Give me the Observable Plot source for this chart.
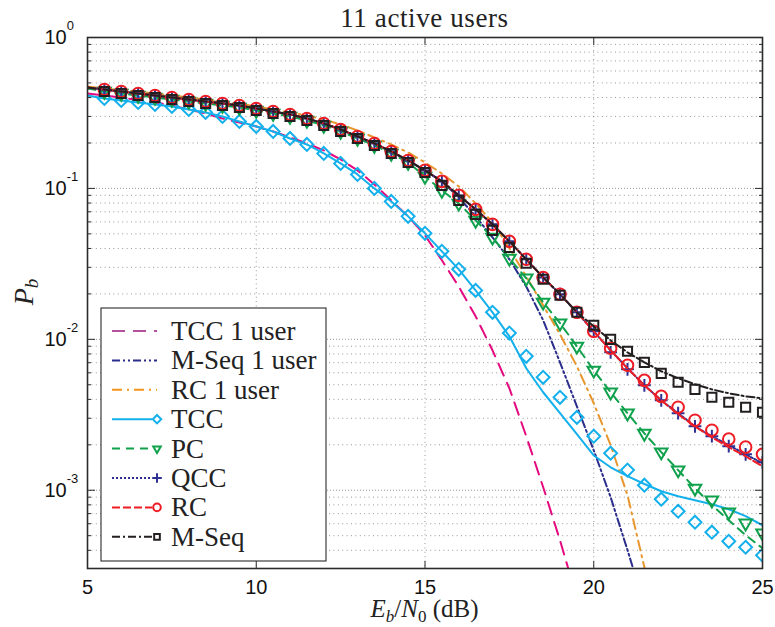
<!DOCTYPE html>
<html>
<head>
<meta charset="utf-8">
<script src="https://cdn.jsdelivr.net/npm/d3@7"></script>
<script src="https://cdn.jsdelivr.net/npm/@observablehq/plot@0.6"></script>
<style>
  html, body { margin: 0; padding: 0; background: #fff; }
  #chart svg { display: block; }
</style>
</head>
<body>
<div id="chart"></div>
<script>
// ---------------- data ----------------
const titleText = "11 active users";
const xTicks = [5, 10, 15, 20, 25];
const yMajorTicks = [1e-3, 1e-2, 1e-1, 1];
const yMinorTicks = [4e-4, 5e-4, 6e-4, 7e-4, 8e-4, 9e-4,
  2e-3, 3e-3, 4e-3, 5e-3, 6e-3, 7e-3, 8e-3, 9e-3,
  2e-2, 3e-2, 4e-2, 5e-2, 6e-2, 7e-2, 8e-2, 9e-2,
  0.2, 0.3, 0.4, 0.5, 0.6, 0.7, 0.8, 0.9];

// Eb/N0 (dB) for the curves (5 … 25 dB)
const ebn0 = [5,5.5,6,6.5,7,7.5,8,8.5,9,9.5,10,10.5,11,11.5,12,12.5,13,13.5,14,14.5,15,
  15.5,16,16.5,17,17.5,18,18.5,19,19.5,20,20.5,21,21.5,22,22.5,23,23.5,24,24.5,25];
// Eb/N0 (dB) for the simulated markers (5.5 … 25 dB)
const ebn0Marks = [5.5,6,6.5,7,7.5,8,8.5,9,9.5,10,10.5,11,11.5,12,12.5,13,13.5,14,14.5,15,
  15.5,16,16.5,17,17.5,18,18.5,19,19.5,20,20.5,21,21.5,22,22.5,23,23.5,24,24.5,25];

// analytic curves
const tcc1Line = [0.4257,0.4129,0.4005,0.3855,0.3711,0.3545,0.3335,0.3138,0.2907,0.2735,0.2574,0.2384,0.2176,0.1986,0.1785,0.1556,0.1316,0.1063,0.0833,0.0653,0.0488,0.0334,0.0224,0.0142,0.00846,0.00474,0.00228,0.00105,0.000466,0.000193];
const mseq1Line = [0.4595,0.4525,0.4389,0.4257,0.4129,0.4005,0.3885,0.3768,0.3655,0.3545,0.3387,0.3235,0.3091,0.2907,0.2694,0.2458,0.2210,0.1986,0.1758,0.1532,0.1316,0.1113,0.0872,0.0653,0.0474,0.0339,0.0224,0.0134,0.00704,0.00360,0.00184,0.000899,0.000401,0.000173];
const rc1Line = [0.4736,0.4595,0.4457,0.4389,0.4257,0.4129,0.4005,0.3885,0.3768,0.3655,0.3491,0.3335,0.3186,0.3043,0.2864,0.2653,0.2421,0.2176,0.1956,0.1731,0.1486,0.1257,0.1031,0.0796,0.0595,0.0401,0.0261,0.0168,0.01079,0.00663,0.00377,0.00199,0.000927,0.000309,0.000102];
const tccLine = [0.4129,0.3945,0.3826,0.3711,0.3600,0.3491,0.3335,0.3186,0.2997,0.2778,0.2574,0.2384,0.2143,0.1956,0.1705,0.1464,0.1238,0.1000,0.0820,0.0653,0.0504,0.0383,0.0291,0.0211,0.0151,0.01047,0.00643,0.00446,0.00324,0.00235,0.00170,0.00142,0.00124,0.00110,0.000985,0.000913,0.000859,0.000808,0.000748,0.000673,0.000586];
const pcLine = [0.4595,0.4389,0.4257,0.4129,0.4005,0.3885,0.3768,0.3655,0.3545,0.3439,0.3285,0.3138,0.2997,0.2820,0.2614,0.2384,0.2143,0.1926,0.1705,0.1486,0.1201,0.0970,0.0796,0.0614,0.0474,0.0344,0.0254,0.0176,0.0128,0.00899,0.00623,0.00446,0.00324,0.00238,0.00179,0.00136,0.00103,0.000796,0.000633,0.000504,0.000413];
const qccLine = [0.4666,0.4525,0.4389,0.4257,0.4129,0.4005,0.3885,0.3768,0.3655,0.3545,0.3387,0.3235,0.3091,0.2907,0.2694,0.2458,0.2210,0.1986,0.1758,0.1532,0.1316,0.1113,0.0899,0.0726,0.0578,0.0446,0.0339,0.0257,0.0199,0.0151,0.0113,0.00846,0.00643,0.00496,0.00394,0.00324,0.00265,0.00228,0.00199,0.00173,0.00151];
const rcLine = [0.4666,0.4525,0.4389,0.4257,0.4129,0.4005,0.3885,0.3768,0.3655,0.3545,0.3387,0.3235,0.3091,0.2907,0.2694,0.2458,0.2210,0.1986,0.1758,0.1532,0.1316,0.1113,0.0899,0.0726,0.0578,0.0446,0.0339,0.0257,0.0199,0.0151,0.0113,0.00846,0.00643,0.00496,0.00394,0.00319,0.00265,0.00224,0.00193,0.00168,0.00144];
const mseqLine = [0.4666,0.4525,0.4389,0.4257,0.4129,0.4005,0.3885,0.3768,0.3655,0.3545,0.3387,0.3235,0.3091,0.2907,0.2694,0.2458,0.2210,0.1986,0.1758,0.1532,0.1316,0.1113,0.0899,0.0726,0.0578,0.0446,0.0339,0.0257,0.0199,0.0151,0.0122,0.00985,0.00820,0.00704,0.00614,0.00552,0.00504,0.00466,0.00439,0.00419,0.00407];

// simulated points
const tccMarks = [0.3945,0.3826,0.3711,0.3600,0.3491,0.3335,0.3186,0.2997,0.2778,0.2574,0.2384,0.2143,0.1956,0.1705,0.1464,0.1238,0.1000,0.0820,0.0653,0.0504,0.0383,0.0291,0.0211,0.0151,0.0110,0.00772,0.00560,0.00413,0.00304,0.00228,0.00176,0.00136,0.00108,0.000872,0.000726,0.000614,0.000527,0.000459,0.000419,0.000371];
const pcMarks = [0.4389,0.4257,0.4129,0.4005,0.3885,0.3768,0.3655,0.3545,0.3439,0.3285,0.3138,0.2997,0.2820,0.2614,0.2384,0.2143,0.1926,0.1705,0.1486,0.1201,0.0970,0.0796,0.0614,0.0474,0.0344,0.0254,0.0176,0.0128,0.00899,0.00623,0.00446,0.00324,0.00238,0.00179,0.00136,0.00103,0.000859,0.000715,0.000605,0.000519];
const qccMarks = [0.4525,0.4389,0.4257,0.4129,0.4005,0.3885,0.3768,0.3655,0.3545,0.3387,0.3235,0.3091,0.2907,0.2694,0.2458,0.2210,0.1986,0.1758,0.1532,0.1316,0.1113,0.0899,0.0726,0.0578,0.0446,0.0339,0.0257,0.0199,0.0151,0.0113,0.00820,0.00633,0.00496,0.00394,0.00324,0.00265,0.00228,0.00196,0.00173,0.00153];
const rcMarks = [0.4525,0.4389,0.4257,0.4129,0.4005,0.3885,0.3768,0.3655,0.3545,0.3387,0.3235,0.3091,0.2907,0.2694,0.2458,0.2210,0.1986,0.1758,0.1532,0.1316,0.1113,0.0899,0.0726,0.0578,0.0446,0.0339,0.0257,0.0199,0.0151,0.0113,0.00872,0.00673,0.00535,0.00419,0.00355,0.00291,0.00250,0.00218,0.00193,0.00173];
const mseqMarks = [0.4389,0.4257,0.4129,0.4005,0.3885,0.3768,0.3655,0.3545,0.3439,0.3285,0.3138,0.2997,0.2820,0.2614,0.2384,0.2143,0.1926,0.1705,0.1486,0.1276,0.1047,0.0833,0.0673,0.0527,0.0407,0.0319,0.0250,0.0196,0.0151,0.0124,0.0100,0.00833,0.00704,0.00595,0.00519,0.00466,0.00413,0.00383,0.00355,0.00329];

const seriesNames = ["TCC 1 user", "M-Seq 1 user", "RC 1 user", "TCC", "PC", "QCC", "RC", "M-Seq"];
const seriesLines = [tcc1Line, mseq1Line, rc1Line, tccLine, pcLine, qccLine, rcLine, mseqLine];
const seriesMarks = [null, null, null, tccMarks, pcMarks, qccMarks, rcMarks, mseqMarks];

// ---------------- styles ----------------
const styles = [
  {color: "#e5097f", legendColor: "#b4519c", dash: "13,8", symbol: null},
  {color: "#2b2d8c", legendColor: "#2b2d8c", dash: "8,3,2,3,2,3", symbol: null},
  {color: "#e8962e", legendColor: "#f7941d", dash: "10,5,2,5", symbol: null},
  {color: "#13b0ec", legendColor: "#13b0ec", dash: null, symbol: "diamond2", r: 5.8, rotate: 0, lr: 3.8},
  {color: "#0fa14b", legendColor: "#0fa14b", dash: "8,6", symbol: "triangle2", r: 6, rotate: 180, lr: 3.6},
  {color: "#2e3192", legendColor: "#2e3192", dash: "2,2", symbol: "plus", r: 4.2, rotate: 0, lr: 3.2},
  {color: "#ee1c25", legendColor: "#ee1c25", dash: "8,3", symbol: "circle", r: 5.8, rotate: 0, lr: 3.8},
  {color: "#231f20", legendColor: "#231f20", dash: "8,3,2,3", symbol: "square2", r: 5.8, rotate: 0, lr: 3.6}
];

const gridStyle = {stroke: "#777", strokeOpacity: 0.85, strokeWidth: 0.9, strokeDasharray: "1,3.4"};
const blank = () => "";

const marks = [
  Plot.gridX(xTicks, gridStyle),
  Plot.gridY(yMinorTicks, gridStyle),
  Plot.gridY(yMajorTicks, {...gridStyle, strokeDasharray: "1,2"})
];

seriesLines.forEach((vals, i) => {
  const s = styles[i];
  const rows = vals.map((v, j) => ({x: ebn0[j], y: v}));
  marks.push(Plot.line(rows, {x: "x", y: "y", stroke: s.color, strokeWidth: 2,
    strokeDasharray: s.dash || undefined, clip: true}));
  const mv = seriesMarks[i];
  if (mv) {
    const mrows = mv.map((v, j) => ({x: ebn0Marks[j], y: v}));
    marks.push(Plot.dot(mrows, {x: "x", y: "y", symbol: s.symbol, r: s.r, rotate: s.rotate,
      stroke: s.color, fill: "none", strokeWidth: 2, clip: true}));
  }
});

marks.push(
  Plot.frame({stroke: "#2b2b2b", strokeWidth: 1.6}),
  // tick marks (inward) on all four sides
  Plot.axisX(xTicks, {anchor: "bottom", tickSize: -7, tickFormat: blank, label: null, stroke: "#2b2b2b"}),
  Plot.axisX(xTicks, {anchor: "top", tickSize: -7, tickFormat: blank, label: null, stroke: "#2b2b2b"}),
  Plot.axisY(yMajorTicks, {anchor: "left", tickSize: -8, tickFormat: blank, label: null, stroke: "#2b2b2b"}),
  Plot.axisY(yMinorTicks, {anchor: "left", tickSize: -4, tickFormat: blank, label: null, stroke: "#2b2b2b"}),
  Plot.axisY(yMajorTicks, {anchor: "right", tickSize: -8, tickFormat: blank, label: null, stroke: "#2b2b2b"}),
  Plot.axisY(yMinorTicks, {anchor: "right", tickSize: -4, tickFormat: blank, label: null, stroke: "#2b2b2b"}),
  // tick labels
  Plot.axisX(xTicks, {anchor: "bottom", tickSize: 0, tickPadding: 11, label: null, fontSize: 20, fill: "#111"}),
  Plot.axisY(yMajorTicks, {anchor: "left", tickSize: 0, tickPadding: 43, textAnchor: "start", label: null,
    fontSize: 20, fill: "#111", tickFormat: d => "10^" + Math.round(Math.log10(d))})
);

const chart = Plot.plot({
  width: 775, height: 627,
  marginLeft: 87, marginRight: 13, marginTop: 37, marginBottom: 59,
  x: {domain: [5, 25], label: null},
  y: {type: "log", domain: [3.03e-4, 1], label: null},
  style: {fontFamily: "'Liberation Sans', Arial, Helvetica, sans-serif", fontSize: "20px", background: "#fff", overflow: "visible"},
  marks
});
document.getElementById("chart").appendChild(chart);

const svg = d3.select(chart);
const serif = "'Liberation Serif', 'Times New Roman', Times, serif";

// superscript exponents on the y tick labels
svg.selectAll('g[aria-label="y-axis tick label"] text').each(function () {
  const t = d3.select(this);
  const s = t.text();
  if (!s.includes("^")) return;
  const [b, e] = s.split("^");
  t.text(null);
  t.append("tspan").text(b);
  t.append("tspan").attr("dy", -14).attr("font-size", 13).text(e);
});

// title
svg.append("text").attr("x", 424.5).attr("y", 27).attr("text-anchor", "middle")
  .attr("font-family", serif).attr("font-size", 27).attr("letter-spacing", 0.6)
  .attr("fill", "#222").text(titleText);

// x label: E_b/N_0 (dB)
const xl = svg.append("text").attr("x", 424.5).attr("y", 617).attr("text-anchor", "middle")
  .attr("font-family", serif).attr("font-size", 25).attr("fill", "#222");
xl.append("tspan").attr("font-style", "italic").text("E");
xl.append("tspan").attr("font-style", "italic").attr("font-size", 17).attr("dy", 5).text("b");
xl.append("tspan").attr("dy", -5).text("/");
xl.append("tspan").attr("font-style", "italic").text("N");
xl.append("tspan").attr("font-size", 17).attr("dy", 5).text("0");
xl.append("tspan").attr("dy", -5).text(" (dB)");

// y label: P_b
const yl = svg.append("text").attr("transform", "translate(33,292) rotate(-90)").attr("text-anchor", "middle")
  .attr("font-family", serif).attr("font-size", 28).attr("fill", "#222");
yl.append("tspan").attr("font-style", "italic").text("P");
yl.append("tspan").attr("font-style", "italic").attr("font-size", 19).attr("dy", 5).text("b");

// legend
const lg = svg.append("g");
lg.append("rect").attr("x", 101).attr("y", 308).attr("width", 225).attr("height", 253)
  .attr("fill", "#fff").attr("stroke", "#2b2b2b").attr("stroke-width", 1.1);
const symMap = {diamond2: d3.symbolDiamond2, triangle2: d3.symbolTriangle2, plus: d3.symbolPlus,
  circle: d3.symbolCircle, square2: d3.symbolSquare2};
seriesNames.forEach((name, i) => {
  const s = styles[i];
  const y = 331 + i * 29.4;
  lg.append("line").attr("x1", 112).attr("x2", s.symbol ? 152 : 157).attr("y1", y).attr("y2", y)
    .attr("stroke", s.legendColor).attr("stroke-width", 2)
    .attr("stroke-dasharray", s.dash || null);
  if (s.symbol) {
    lg.append("path")
      .attr("d", d3.symbol(symMap[s.symbol], Math.PI * s.lr * s.lr)())
      .attr("transform", `translate(157,${y}) rotate(${s.rotate})`)
      .attr("fill", "#fff").attr("stroke", s.legendColor).attr("stroke-width", 2);
  }
  lg.append("text").attr("x", 171).attr("y", y + 9).attr("text-anchor", "start")
    .attr("font-family", serif).attr("font-size", 27).attr("fill", "#222").text(name);
});
</script>
</body>
</html>
